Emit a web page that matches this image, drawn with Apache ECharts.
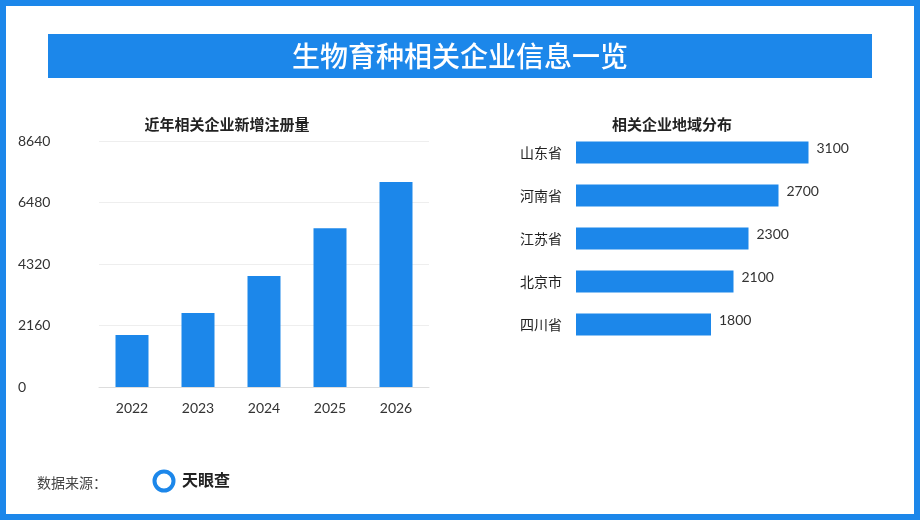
<!DOCTYPE html>
<html><head><meta charset="utf-8">
<script src="https://cdn.jsdelivr.net/npm/echarts@6/dist/echarts.min.js"></script>
<style>html,body{margin:0;padding:0;background:#fff}#c{width:920px;height:520px}</style>
</head><body><div id="c"></div>
<script>
const years = ['2022','2023','2024','2025','2026'];
const regValues = [1830, 2600, 3900, 5580, 7200];
const yTicks = [0, 2160, 4320, 6480, 8640];
const provinces = ['山东省','河南省','江苏省','北京市','四川省'];
const provValues = [3100, 2700, 2300, 2100, 1800];
const blue = '#1c87ea';
const font = '"Noto Sans CJK SC", sans-serif';
const chart = echarts.init(document.getElementById('c'));
chart.setOption({
  animation: false,
  textStyle: {fontFamily: font},
  title: [
    {text: '近年相关企业新增注册量', left: 222, top: 112, textAlign: 'center', textStyle: {fontSize: 15, fontWeight: 'bold', color: '#222'}},
    {text: '相关企业地域分布', left: 667, top: 112, textAlign: 'center', textStyle: {fontSize: 15, fontWeight: 'bold', color: '#222'}}
  ],
  grid: [
    {left: 99, top: 141, width: 330, height: 246},
    {left: 576, top: 131, width: 300, height: 215}
  ],
  xAxis: [
    {gridIndex: 0, type: 'category', data: years, axisTick: {show: false},
     axisLine: {lineStyle: {color: '#ddd'}}, axisLabel: {color: '#333', fontSize: 14, margin: 14, fontFamily: 'Lato'}},
    {gridIndex: 1, type: 'value', min: 0, max: 4000, show: false}
  ],
  yAxis: [
    {gridIndex: 0, type: 'value', min: 0, max: yTicks[yTicks.length-1], interval: yTicks[1],
     axisLabel: {color: '#333', fontSize: 14, align: 'left', margin: 81, fontFamily: 'Lato', formatter: v => String(v)},
     splitLine: {lineStyle: {color: '#eee'}}},
    {gridIndex: 1, type: 'category', data: provinces, inverse: true, axisLine: {show: false}, axisTick: {show: false},
     axisLabel: {color: '#222', fontSize: 14, margin: 14}}
  ],
  series: [
    {type: 'bar', xAxisIndex: 0, yAxisIndex: 0, data: regValues, barWidth: 33, itemStyle: {color: blue}},
    {type: 'bar', xAxisIndex: 1, yAxisIndex: 1, data: provValues, barWidth: 22, itemStyle: {color: blue},
     label: {show: true, position: 'right', color: '#333', fontSize: 14, distance: 8, offset: [0, -4], fontFamily: 'Lato'}}
  ],
  graphic: [
    {type: 'rect', shape: {x: 3, y: 3, width: 914, height: 514}, style: {fill: 'none', stroke: blue, lineWidth: 6}},
    {type: 'rect', shape: {x: 48, y: 34, width: 824, height: 44}, style: {fill: blue}},
    {type: 'text', x: 460, y: 56, style: {text: '生物育种相关企业信息一览', fill: '#fff', font: '500 28px "Noto Sans CJK SC"', align: 'center', verticalAlign: 'middle'}},
    {type: 'text', x: 37, y: 483, style: {text: '数据来源：', fill: '#444', font: '14px "Noto Sans CJK SC"', verticalAlign: 'middle'}},
    {type: 'circle', shape: {cx: 164, cy: 481, r: 9.5}, style: {fill: 'none', stroke: blue, lineWidth: 4}},
    {type: 'text', x: 182, y: 480, style: {text: '天眼查', fill: '#222', font: 'bold 16px "Noto Sans CJK SC"', verticalAlign: 'middle'}}
  ]
});
</script></body></html>
